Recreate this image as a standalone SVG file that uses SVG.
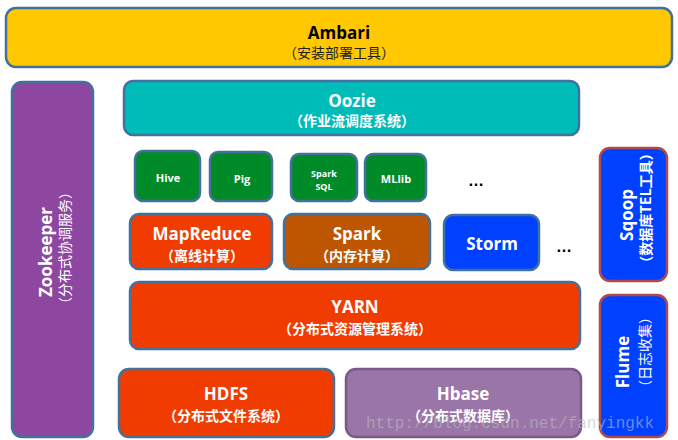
<svg xmlns="http://www.w3.org/2000/svg" width="678" height="440" viewBox="0 0 678 440">
<style>
.b{stroke:#41719C;stroke-width:2.5}
.r{stroke:#B04A4A;stroke-width:2.5}
.t{font-family:"Open Sans","Liberation Sans","Noto Sans CJK SC",sans-serif;font-weight:bold;fill:#fff;text-anchor:middle}
.s{font-family:"Noto Sans CJK SC","Liberation Sans",sans-serif;font-weight:bold;fill:#fff;text-anchor:middle;font-size:14px}
.d{font-family:"Liberation Sans",sans-serif;font-weight:bold;font-size:16px;fill:#000;text-anchor:middle}
</style>
<rect width="678" height="440" fill="#fff"/>
<g id="ambari"><rect class="b" x="6" y="8" width="666" height="59" rx="10" fill="#FFC800"/>
<text class="t" x="339" y="39" font-size="17" style="fill:#000">Ambari</text>
<text class="s" x="339" y="58" style="fill:#222;font-weight:normal">（安装部署工具）</text></g>
<g id="zookeeper"><rect class="b" x="12" y="82" width="81" height="355" rx="10" fill="#8E47A1"/>
<text class="t" font-size="17" transform="translate(52,252) rotate(-90)">Zookeeper</text>
<text class="s" font-size="15" style="font-weight:normal" transform="translate(70,248) rotate(-90)">（分布式协调服务）</text></g>
<g id="oozie"><rect class="b" x="124" y="81" width="455" height="54" rx="9" fill="#00BCB8"/>
<text class="t" x="352" y="107" font-size="17">Oozie</text>
<text class="s" x="352" y="126">（作业流调度系统）</text></g>
<g id="hive"><rect class="b" x="135" y="151" width="65" height="50" rx="8" fill="#008A28"/><text class="t" x="168" y="182" font-size="11">Hive</text></g>
<g id="pig"><rect class="b" x="210" y="152" width="62" height="49" rx="8" fill="#008A28"/><text class="t" x="242" y="183" font-size="11">Pig</text></g>
<g id="sparksql"><rect class="b" x="291" y="154" width="66" height="47" rx="8" fill="#008A28"/><text class="t" x="324" y="177" font-size="9">Spark</text><text class="t" x="324" y="190" font-size="9">SQL</text></g>
<g id="mllib"><rect class="b" x="365" y="154" width="61" height="47" rx="8" fill="#008A28"/><text class="t" x="396" y="183" font-size="11">MLlib</text></g>
<text class="d" x="476" y="186">…</text>
<g id="mapreduce"><rect class="b" x="130" y="214" width="142" height="55" rx="9" fill="#F03C00"/>
<text class="t" x="202" y="240" font-size="17">MapReduce</text><text class="s" x="202" y="261">（离线计算）</text></g>
<g id="spark"><rect class="b" x="284" y="214" width="146" height="55" rx="9" fill="#BE5500"/>
<text class="t" x="357" y="240" font-size="17">Spark</text><text class="s" x="357" y="261">（内存计算）</text></g>
<g id="storm"><rect class="b" x="444" y="215" width="95" height="55" rx="9" fill="#0040FF"/>
<text class="t" x="492" y="250" font-size="17">Storm</text></g>
<text class="d" x="564" y="252">…</text>
<g id="sqoop"><rect class="r" x="600" y="148" width="67" height="133" rx="10" fill="#0040FF"/>
<text class="t" font-size="17" transform="translate(633,215) rotate(-90)">Sqoop</text>
<text class="s" font-size="12" transform="translate(651,208) rotate(-90)">（数据库TEL工具）</text></g>
<g id="yarn"><rect class="b" x="130" y="282" width="450" height="67" rx="9" fill="#F03C00"/>
<text class="t" x="355" y="313" font-size="17">YARN</text><text class="s" x="355" y="334">（分布式资源管理系统）</text></g>
<g id="flume"><rect class="r" x="600" y="295" width="67" height="142" rx="10" fill="#0040FF"/>
<text class="t" font-size="17" transform="translate(629,362) rotate(-90)">Flume</text>
<text class="s" font-size="14" style="font-weight:normal" transform="translate(650,352) rotate(-90)">（日志收集）</text></g>
<g id="hdfs"><rect class="b" x="119" y="369" width="215" height="68" rx="10" fill="#F03C00"/>
<text class="t" x="226" y="400" font-size="17">HDFS</text><text class="s" x="226" y="421">（分布式文件系统）</text></g>
<g id="hbase"><rect x="346" y="369" width="235" height="68" rx="10" fill="#9A75A8" stroke="#7A5A88" stroke-width="2.5"/>
<text class="t" x="463" y="400" font-size="17">Hbase</text><text class="s" x="463" y="421">（分布式数据库）</text></g>
<g id="connectors"></g>
<text x="366" y="428" font-family="Liberation Mono,monospace" font-size="16" fill="#bbb" fill-opacity="0.6">http://blog.csdn.net/fanyingkk</text>
</svg>
